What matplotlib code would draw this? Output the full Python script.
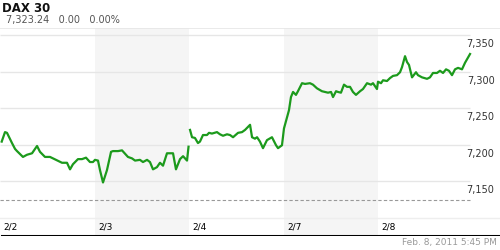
import numpy as np
import matplotlib
matplotlib.use("Agg")
import matplotlib.pyplot as plt

# trading days shown on the x axis
dates = ["2/2", "2/3", "2/4", "2/7", "2/8"]

# 2/2 - 2/3 (time in trading days from the start of 2/2)
t_a = [0.018, 0.053, 0.074, 0.127, 0.159, 0.180, 0.243, 0.286, 0.339, 0.392, 0.423,
       0.476, 0.529, 0.561, 0.656, 0.709, 0.741, 0.772, 0.825, 0.868, 0.910, 0.952,
       0.984, 1.005, 1.037, 1.058, 1.090, 1.132, 1.175, 1.196, 1.249, 1.291, 1.354,
       1.397, 1.429, 1.481, 1.513, 1.556, 1.587, 1.619, 1.661, 1.693, 1.725, 1.767,
       1.799, 1.831, 1.862, 1.905, 1.937, 1.979, 1.995]
p_a = [7204, 7217, 7216, 7202, 7194, 7191, 7183, 7186, 7188, 7198, 7190,
       7183, 7183, 7181, 7175, 7175, 7166, 7173, 7180, 7180, 7182, 7176,
       7176, 7179, 7178, 7165, 7148, 7165, 7190, 7191, 7191, 7192, 7183,
       7181, 7178, 7179, 7176, 7179, 7176, 7166, 7169, 7175, 7171, 7188,
       7188, 7188, 7166, 7180, 7184, 7178, 7197]

# 2/4 - 2/8
t_b = [2.011, 2.032, 2.063, 2.095, 2.116, 2.148, 2.190, 2.212, 2.243, 2.296, 2.328,
       2.360, 2.402, 2.434, 2.466, 2.519, 2.561, 2.593, 2.646, 2.667, 2.698, 2.720,
       2.751, 2.783, 2.825, 2.878, 2.921, 2.942, 2.984,
       3.005, 3.058, 3.079, 3.101, 3.132, 3.153, 3.196, 3.228, 3.280, 3.312, 3.354,
       3.407, 3.439, 3.471, 3.503, 3.524, 3.556, 3.577, 3.608, 3.640, 3.672, 3.704,
       3.735, 3.767, 3.810, 3.841, 3.884, 3.926, 3.947, 3.989,
       4.000, 4.032, 4.053, 4.095, 4.127, 4.159, 4.201, 4.233, 4.254, 4.286, 4.307,
       4.328, 4.360, 4.402, 4.423, 4.466, 4.519, 4.550, 4.582, 4.624, 4.656, 4.688,
       4.720, 4.751, 4.783, 4.815, 4.847, 4.889, 4.921, 4.974]
p_b = [7220, 7210, 7209, 7202, 7204, 7213, 7213, 7216, 7215, 7217, 7214,
       7212, 7214, 7213, 7210, 7216, 7217, 7220, 7227, 7210, 7208, 7210,
       7204, 7195, 7206, 7210, 7199, 7195, 7199,
       7222, 7247, 7265, 7272, 7268, 7273, 7284, 7283, 7284, 7282, 7277,
       7273, 7272, 7271, 7272, 7265, 7273, 7272, 7271, 7282, 7279, 7279,
       7272, 7268, 7273, 7276, 7284, 7282, 7284, 7276,
       7286, 7284, 7288, 7287, 7291, 7294, 7295, 7299, 7306, 7321,
       7313, 7309, 7292, 7299, 7295, 7292, 7290, 7292, 7298, 7298, 7301,
       7298, 7303, 7301, 7295, 7303, 7305, 7303, 7312, 7324]

prev_close = 7124
yticks = [7150, 7200, 7250, 7300, 7350]
last = "7,323.24"
change = "0.00"
pct = "0.00%"

fig = plt.figure(figsize=(5, 2.5), dpi=100)
ax = fig.add_axes([0, 0.056, 1, 0.832])
xmax = 5.291
ax.set_xlim(0, xmax)
ax.set_ylim(7074.7, 7359.6)
ax.axis("off")

# shaded alternate days
for i in (1, 3):
    ax.axvspan(i, i + 1, color="#f5f5f5", lw=0, zorder=0)

# grid
end = 4.974
for y in yticks:
    ax.hlines(y, 0, end, color="#e6e6e6", lw=1, zorder=1)
    ax.annotate(f"{y:,}", (xmax, y), xytext=(-4, -3), textcoords="offset points",
                ha="right", va="top", fontsize=7, color="#333333")
ax.hlines(prev_close, 0, end, color="#999999", lw=0.8, ls=(0, (3, 2)), zorder=1)

# top border and date band separator
ax.axhline(7359.6, color="#e6e6e6", lw=1.2)
sep = 7074.7 + (7359.6 - 7074.7) * 18 / 208
ax.axhline(sep, color="#eeeeee", lw=1)
ax.axhline(7074.7, xmin=0.004, color="black", lw=2.2)

for i, d in enumerate(dates):
    ax.annotate(d, (i, 7074.7), xytext=(2.5, 6.5), textcoords="offset points",
                ha="left", va="center", fontsize=6.5, color="black")

ax.plot(t_a, p_a, color="#1c9a1c", lw=1.6, zorder=3, solid_joinstyle="round")
ax.plot(t_b, p_b, color="#1c9a1c", lw=1.6, zorder=3, solid_joinstyle="round")

fig.text(0.004, 0.968, "DAX 30", fontsize=8.5, fontweight="bold", va="center", color="#111111")
fig.text(0.012, 0.922, f"{last}   {change}   {pct}", fontsize=7, va="center", color="#555555")
fig.text(0.994, 0.028, "Feb. 8, 2011 5:45 PM", fontsize=6.5, ha="right", va="center", color="#999999")

fig.savefig("out.png", dpi=100)
